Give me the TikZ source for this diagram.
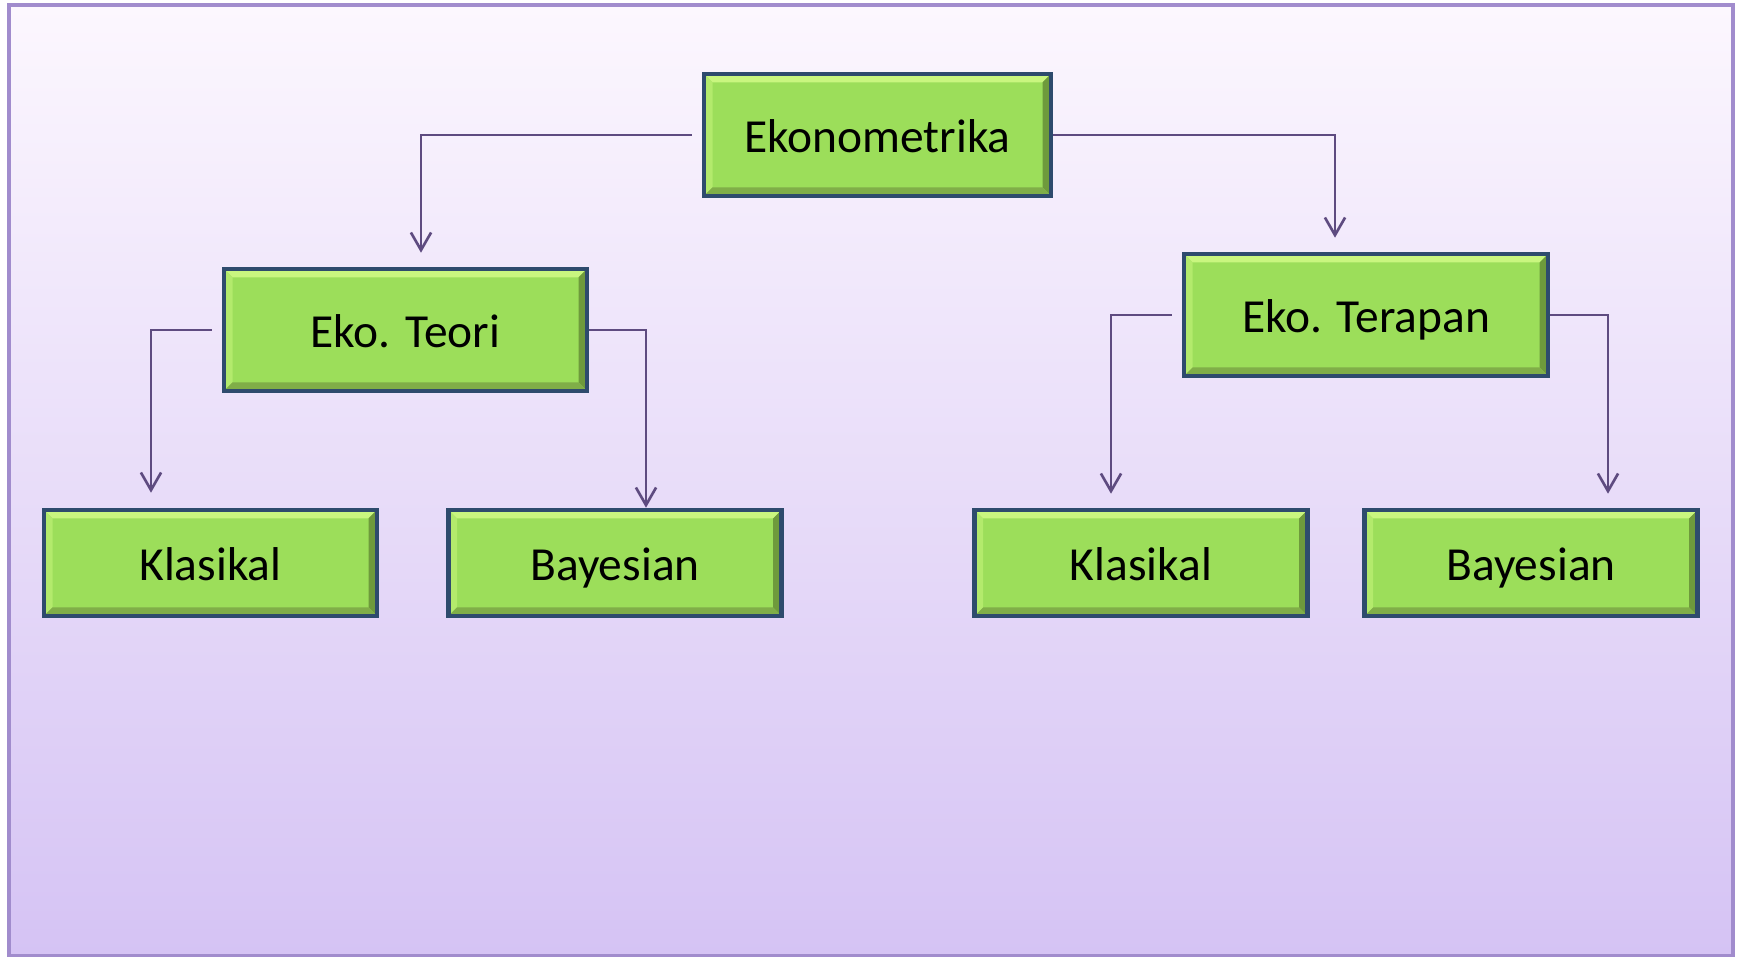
\documentclass[tikz,border=0pt]{standalone}
\usepackage{fontspec}
\setmainfont{Carlito}
\usepackage{tikz}
\usetikzlibrary{arrows.meta}

\definecolor{bgtop}{HTML}{FCF7FE}
\definecolor{bgbot}{HTML}{D5C3F4}
\definecolor{frameline}{HTML}{A18CCD}
\definecolor{boxfill}{HTML}{9CDE5A}
\definecolor{boxline}{HTML}{2E4B6D}
\definecolor{bevtop}{HTML}{C9F67F}
\definecolor{bevleft}{HTML}{B3EA6C}
\definecolor{bevright}{HTML}{6E9A3C}
\definecolor{bevbottom}{HTML}{80AE48}
\definecolor{linkline}{HTML}{5E4B80}

\begin{document}
\begin{tikzpicture}[
  box/.style={rectangle, draw=boxline, line width=2.6pt, fill=boxfill, inner sep=0pt,
    minimum width=6.66cm, minimum height=2.12cm, font=\fontsize{27}{31}\selectfont,
    text height=24pt, text depth=4.4pt,
    path picture={
      \coordinate (sw) at (path picture bounding box.south west);
      \coordinate (ne) at (path picture bounding box.north east);
      \coordinate (nw) at (sw |- ne);
      \coordinate (se) at (ne |- sw);
      \fill[bevtop] (nw) -- (ne) -- ([shift={(-.17,-.17)}]ne) -- ([shift={(.17,-.17)}]nw) -- cycle;
      \fill[bevleft] (sw) -- (nw) -- ([shift={(.17,-.17)}]nw) -- ([shift={(.17,.17)}]sw) -- cycle;
      \fill[bevright] (se) -- (ne) -- ([shift={(-.17,-.17)}]ne) -- ([shift={(-.17,.17)}]se) -- cycle;
      \fill[bevbottom] (sw) -- (se) -- ([shift={(-.17,.17)}]se) -- ([shift={(.17,.17)}]sw) -- cycle;
    }},
  topbox/.style={box, minimum height=2.44cm},
  link/.style={draw=linkline, line width=1.5pt, -{Straight Barb[length=10pt,width=11.5pt]}}]

  \useasboundingbox (0,0) rectangle (34.78,19.14);
  \shade[top color=bgtop, bottom color=bgbot, draw=frameline, line width=1.8pt] (0.18,0.02) rectangle (34.66,19.04);

  \node[topbox, minimum width=6.94cm] (eko) at (17.55,16.44) {Ekonometrika};
  \node[topbox, minimum width=7.26cm] (teori) at (8.11,12.54) {Eko. Teori};
  \node[topbox, minimum width=7.28cm] (terapan) at (27.32,12.84) {Eko. Terapan};
  \node[box] (klas1) at (4.21,7.88) {Klasikal};
  \node[box] (bayes1) at (12.30,7.88) {Bayesian};
  \node[box] (klas2) at (22.82,7.88) {Klasikal};
  \node[box] (bayes2) at (30.62,7.88) {Bayesian};

  \draw[link, shorten <=0.2cm, shorten >=0.28cm] (eko.west) -| ([xshift=0.31cm]teori.north);
  \draw[link, shorten >=0.28cm] (eko.east) -| ([xshift=-0.62cm]terapan.north);
  \draw[link, shorten <=0.2cm, shorten >=0.3cm] (teori.west) -| ([xshift=-1.19cm]klas1.north);
  \draw[link] (teori.east) -| ([xshift=0.62cm]bayes1.north);
  \draw[link, shorten <=0.2cm, shorten >=0.28cm] (terapan.west) -| ([xshift=-0.60cm]klas2.north);
  \draw[link, shorten >=0.28cm] (terapan.east) -| ([xshift=1.54cm]bayes2.north);
\end{tikzpicture}
\end{document}
